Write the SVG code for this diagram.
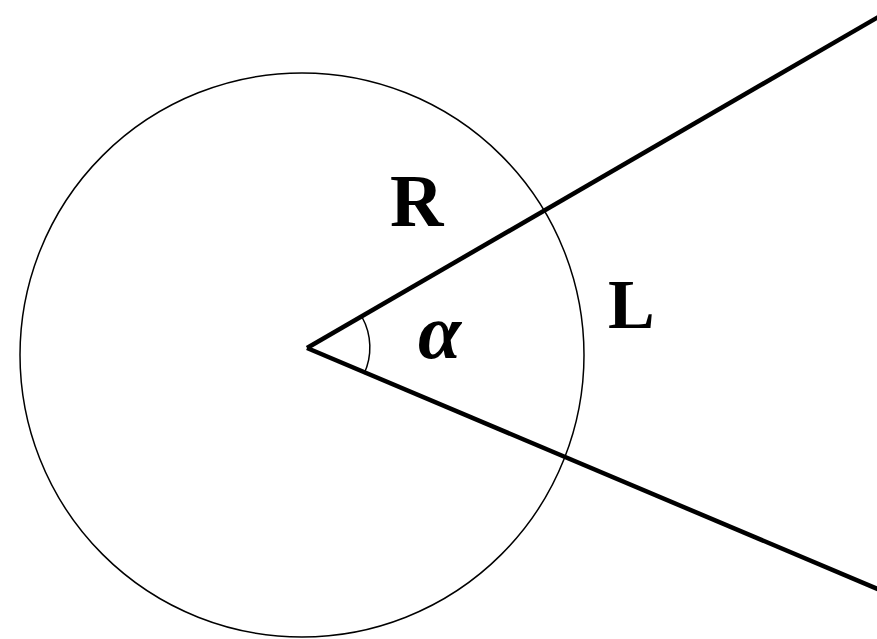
<svg xmlns="http://www.w3.org/2000/svg" width="877" height="639" viewBox="0 0 877 639">
<style>
.thin{fill:none;stroke:#000;stroke-width:1.5}
.ray{fill:none;stroke:#000;stroke-width:4.5;stroke-linecap:butt}
.lbl{font-family:"Liberation Serif",serif;font-weight:bold;fill:#000}
</style>
<rect width="877" height="639" fill="#fff"/>
<g id="circle"><circle class="thin" cx="302" cy="355" r="282"/></g>
<g id="connectors">
<line class="ray" x1="307" y1="348" x2="880" y2="16"/>
<line class="ray" x1="307" y1="348" x2="880" y2="590"/>
<path class="thin" d="M362,317 A63,63 0 0 1 364,374" stroke-width="2"/>
</g>
<g id="labelR"><text class="lbl" x="390" y="226" font-size="74">R</text></g>
<g id="labelL"><text class="lbl" x="608" y="328" font-size="70">L</text></g>
<g id="labelAlpha"><text class="lbl" x="418" y="358" font-size="78" font-style="italic">α</text></g>
</svg>
